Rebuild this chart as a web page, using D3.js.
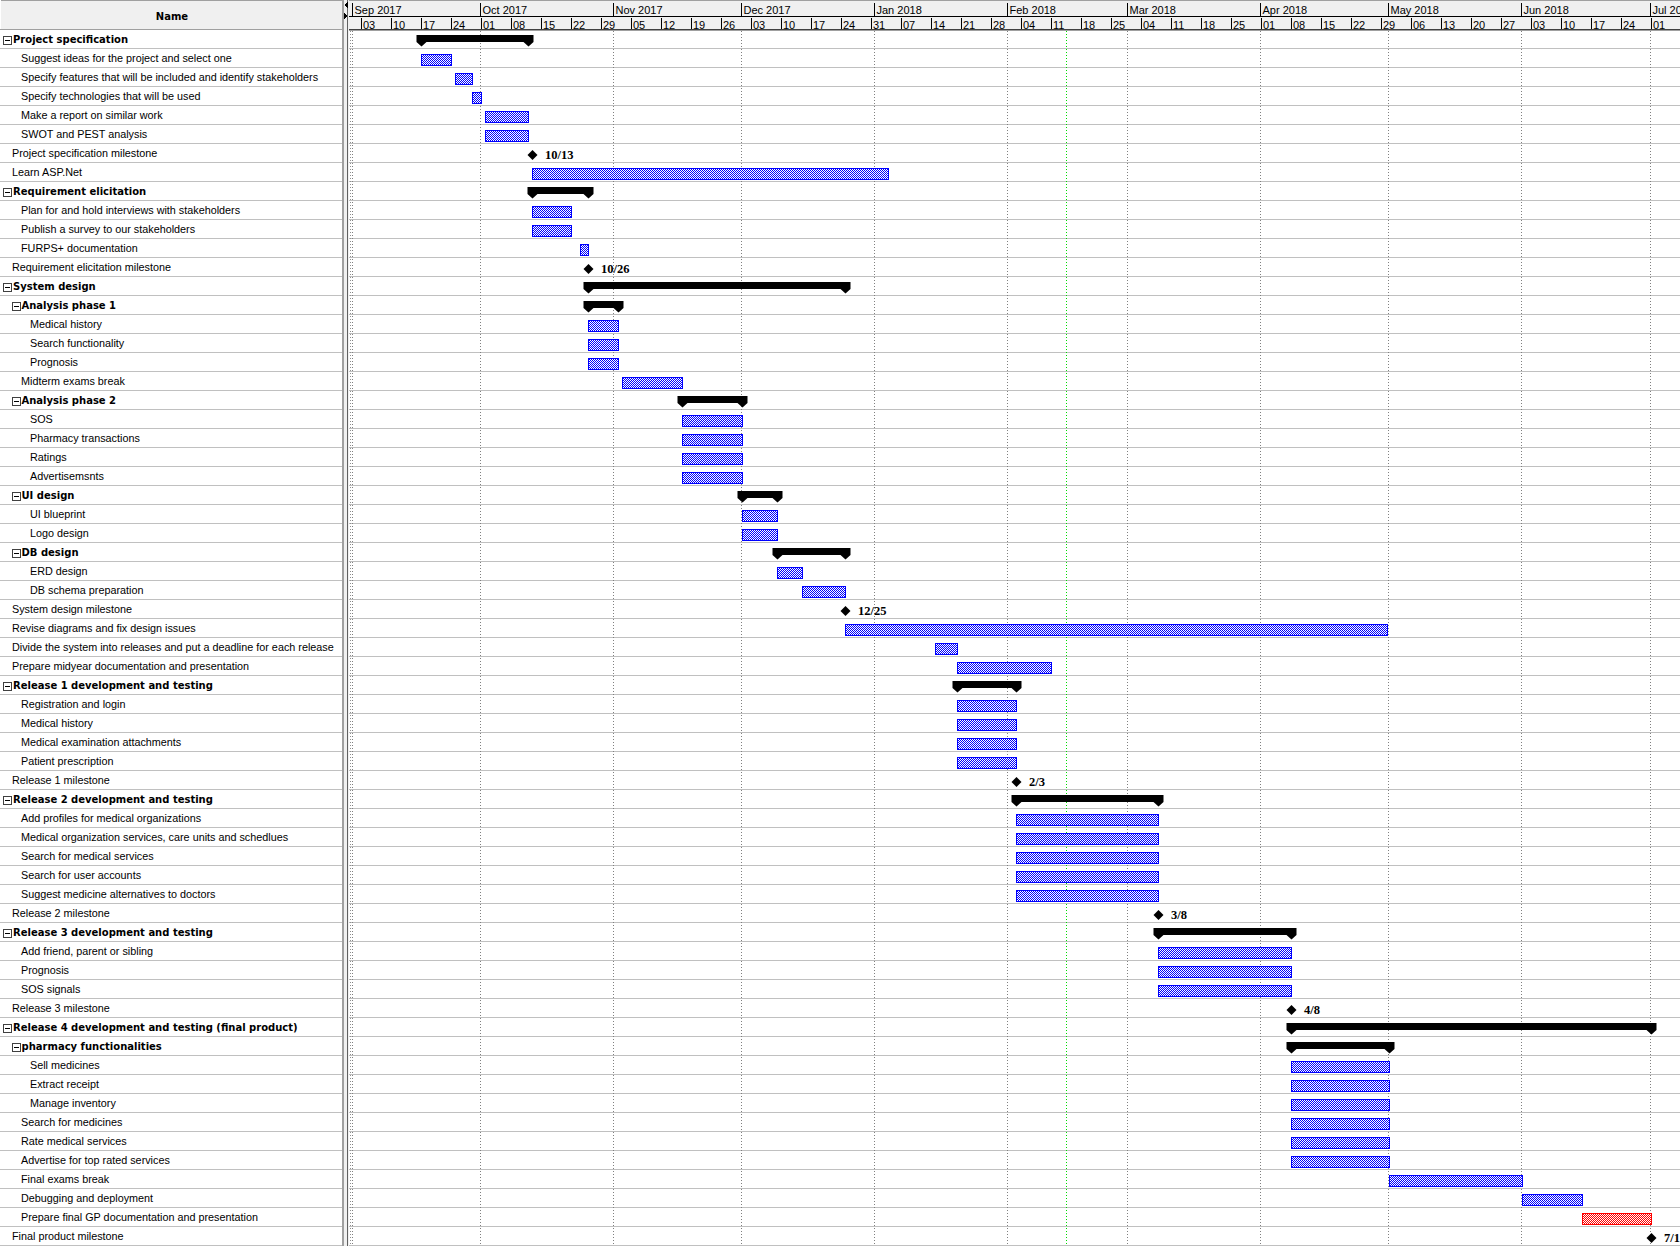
<!DOCTYPE html>
<html><head><meta charset="utf-8">
<script src="https://cdn.jsdelivr.net/npm/d3@7"></script>
<style>html,body{margin:0;padding:0;background:#fff;overflow:hidden}</style>
</head><body>
<svg id="c" width="1680" height="1246"></svg>
<script>
// ---------- DATA ----------
const taskNames = [
 "Project specification","Suggest ideas for the project and select one","Specify features that will be included and identify stakeholders",
 "Specify technologies that will be used","Make a report on similar work","SWOT and PEST analysis","Project specification milestone",
 "Learn ASP.Net","Requirement elicitation","Plan for and hold interviews with stakeholders","Publish a survey to our stakeholders",
 "FURPS+ documentation","Requirement elicitation milestone","System design","Analysis phase 1","Medical history","Search functionality",
 "Prognosis","Midterm exams break","Analysis phase 2","SOS","Pharmacy transactions","Ratings","Advertisemsnts","UI design","UI blueprint",
 "Logo design","DB design","ERD design","DB schema preparation","System design milestone","Revise diagrams and fix design issues",
 "Divide the system into releases and put a deadline for each release","Prepare midyear documentation and presentation",
 "Release 1 development and testing","Registration and login","Medical history","Medical examination attachments","Patient prescription",
 "Release 1 milestone","Release 2 development and testing","Add profiles for medical organizations",
 "Medical organization services, care units and schedlues","Search for medical services","Search for user accounts",
 "Suggest medicine alternatives to doctors","Release 2 milestone","Release 3 development and testing","Add friend, parent or sibling",
 "Prognosis","SOS signals","Release 3 milestone","Release 4 development and testing (final product)","pharmacy functionalities",
 "Sell medicines","Extract receipt","Manage inventory","Search for medicines","Rate medical services","Advertise for top rated services",
 "Final exams break","Debugging and deployment","Prepare final GP documentation and presentation","Final product milestone"
];
const taskLevels = [
 0,1,1,1,1,1,0,0,0,1,1,1,0,0,1,2,2,2,1,1,2,2,2,2,1,2,2,1,2,2,0,0,0,0,0,1,1,1,1,0,0,1,1,1,1,1,0,0,1,1,1,0,0,1,2,2,2,1,1,1,1,1,1,0
];
// g = summary group, t = task, m = milestone, c = critical task
const taskKinds = [
 "g","t","t","t","t","t","m","t","g","t","t","t","m","g","g","t","t","t","t","g","t","t","t","t","g","t","t","g","t","t","m","t","t","t",
 "g","t","t","t","t","m","g","t","t","t","t","t","m","g","t","t","t","m","g","g","t","t","t","t","t","t","t","t","c","m"
];
const taskStarts = [
 "2017-09-17","2017-09-17","2017-09-25","2017-09-29","2017-10-02","2017-10-02","2017-10-13","2017-10-13","2017-10-13","2017-10-13",
 "2017-10-13","2017-10-24","2017-10-26","2017-10-26","2017-10-26","2017-10-26","2017-10-26","2017-10-26","2017-11-03","2017-11-17",
 "2017-11-17","2017-11-17","2017-11-17","2017-11-17","2017-12-01","2017-12-01","2017-12-01","2017-12-09","2017-12-09","2017-12-15",
 "2017-12-25","2017-12-25","2018-01-15","2018-01-20","2018-01-20","2018-01-20","2018-01-20","2018-01-20","2018-01-20","2018-02-03",
 "2018-02-03","2018-02-03","2018-02-03","2018-02-03","2018-02-03","2018-02-03","2018-03-08","2018-03-08","2018-03-08","2018-03-08",
 "2018-03-08","2018-04-08","2018-04-08","2018-04-08","2018-04-08","2018-04-08","2018-04-08","2018-04-08","2018-04-08","2018-04-08",
 "2018-05-01","2018-06-01","2018-06-15","2018-07-01"
];
const taskEnds = [
 "2017-10-12","2017-09-24","2017-09-29","2017-10-01","2017-10-12","2017-10-12","2017-10-13","2018-01-04","2017-10-26","2017-10-22",
 "2017-10-22","2017-10-26","2017-10-26","2017-12-25","2017-11-02","2017-11-02","2017-11-02","2017-11-02","2017-11-17","2017-12-01",
 "2017-12-01","2017-12-01","2017-12-01","2017-12-01","2017-12-09","2017-12-09","2017-12-09","2017-12-25","2017-12-15","2017-12-25",
 "2017-12-25","2018-04-30T12:00","2018-01-20","2018-02-11","2018-02-03","2018-02-03","2018-02-03","2018-02-03","2018-02-03","2018-02-03",
 "2018-03-08","2018-03-08","2018-03-08","2018-03-08","2018-03-08","2018-03-08","2018-03-08","2018-04-08","2018-04-08","2018-04-08",
 "2018-04-08","2018-04-08","2018-07-01","2018-05-01","2018-05-01","2018-05-01","2018-05-01","2018-05-01","2018-05-01","2018-05-01",
 "2018-06-01","2018-06-15","2018-07-01","2018-07-01"
];
const timeDomain = ["2017-09-01","2018-07-01"];
const todayDate = "2018-02-14T12:00";
const headerTitle = "Name";

// ---------- LAYOUT ----------
const W = 1680, H = 1246, HEAD = 29, ROW = 19, TABLE_W = 342, CHART_X = 349;
const parse = s => new Date(s + (s.length > 10 ? ":00Z" : "T00:00:00Z"));
const x = d3.scaleUtc().domain(timeDomain.map(parse)).range([353, 1651]);
const rows = taskNames.map((n, i) => ({
  name: n, level: taskLevels[i], kind: taskKinds[i],
  s: parse(taskStarts[i]), e: parse(taskEnds[i]), top: HEAD + i * ROW
}));
const fontNormal = "Liberation Sans, Arial, sans-serif";
const fontBold = "DejaVu Sans, Verdana, sans-serif";

const svg = d3.select("#c").attr("shape-rendering", "crispEdges");
const defs = svg.append("defs");
function checker(id, col) {
  const p = defs.append("pattern").attr("id", id).attr("width", 2).attr("height", 2)
    .attr("patternUnits", "userSpaceOnUse");
  p.append("rect").attr("width", 2).attr("height", 2).attr("fill", "#fff");
  p.append("rect").attr("width", 1).attr("height", 1).attr("fill", col);
  p.append("rect").attr("x", 1).attr("y", 1).attr("width", 1).attr("height", 1).attr("fill", col);
}
checker("pBlue", "#0000ff");
checker("pRed", "#ff0000");
defs.append("clipPath").attr("id", "clipChart").append("rect")
  .attr("x", CHART_X).attr("y", 0).attr("width", W - CHART_X).attr("height", H);
defs.append("clipPath").attr("id", "clipTable").append("rect")
  .attr("x", 0).attr("y", 0).attr("width", TABLE_W).attr("height", H);

svg.append("rect").attr("width", W).attr("height", H).attr("fill", "#fff");

// ---------- TABLE ----------
const table = svg.append("g").attr("clip-path", "url(#clipTable)");
table.append("rect").attr("x", 0).attr("y", 0).attr("width", TABLE_W).attr("height", HEAD).attr("fill", "#f0f0f0");
table.append("line").attr("x1", 0).attr("x2", TABLE_W).attr("y1", 0.5).attr("y2", 0.5).attr("stroke", "#a0a0a0");
table.append("line").attr("x1", 0.5).attr("x2", 0.5).attr("y1", 0).attr("y2", HEAD).attr("stroke", "#ffffff");
table.append("text").attr("x", 172).attr("y", 19.5).attr("text-anchor", "middle")
  .attr("font-family", fontBold).attr("font-size", 10).attr("font-weight", "bold")
  .attr("fill", "#000").text(headerTitle);

const trow = table.selectAll("g.row").data(rows).join("g").attr("class", "row")
  .attr("transform", d => `translate(0,${d.top})`);
trow.filter(d => d.kind === "g").each(function(d) {
  const g = d3.select(this), bx = 3 + 9 * d.level;
  g.append("rect").attr("x", bx + 0.5).attr("y", 7.5).attr("width", 8).attr("height", 8)
    .attr("fill", "#fff").attr("stroke", "#404040");
  g.append("line").attr("x1", bx + 2).attr("x2", bx + 7).attr("y1", 11.5).attr("y2", 11.5).attr("stroke", "#000");
});
trow.append("text")
  .attr("x", d => d.kind === "g" ? 13 + 8.5 * d.level : 12 + 9 * d.level)
  .attr("y", 13.8)
  .attr("font-family", d => d.kind === "g" ? fontBold : fontNormal)
  .attr("font-size", d => d.kind === "g" ? 10 : 10.8)
  .attr("font-weight", d => d.kind === "g" ? "bold" : "normal")
  .attr("fill", "#000").attr("shape-rendering", "auto")
  .text(d => d.name);

// row lines across everything
svg.append("g").selectAll("line").data(rows).join("line")
  .attr("x1", 0).attr("x2", W)
  .attr("y1", d => d.top + ROW + 0.5).attr("y2", d => d.top + ROW + 0.5)
  .attr("stroke", "#c0c0c0");
svg.append("line").attr("x1", 0).attr("x2", TABLE_W).attr("y1", HEAD + 0.5).attr("y2", HEAD + 0.5).attr("stroke", "#a0a0a0");

// ---------- SPLITTER ----------
const sp = svg.append("g");
sp.append("rect").attr("x", 342).attr("y", 0).attr("width", 7).attr("height", H).attr("fill", "#f0f0f0");
sp.append("line").attr("x1", 342.5).attr("x2", 342.5).attr("y1", 0).attr("y2", H).attr("stroke", "#a0a0a0");
sp.append("line").attr("x1", 343.5).attr("x2", 343.5).attr("y1", 0).attr("y2", H).attr("stroke", "#a0a0a0");
sp.append("line").attr("x1", 347.5).attr("x2", 347.5).attr("y1", 0).attr("y2", H).attr("stroke", "#606060");
sp.append("path").attr("d", "M344,5 L348,2 L348,8 Z").attr("fill", "#000");
sp.append("path").attr("d", "M344,13 L348,16 L344,19 Z").attr("fill", "#000");

// ---------- CHART ----------
const chart = svg.append("g").attr("clip-path", "url(#clipChart)");
const months = d3.utcMonth.range(x.domain()[0], d3.utcMonth.offset(x.domain()[1], 1)).filter(d => x(d) < W);
const weeks = d3.utcSunday.range(d3.utcDay.offset(x.domain()[0], -7), d3.utcDay.offset(x.domain()[1], 30))
  .filter(d => x(d) > CHART_X && x(d) + 14 < W);
const mx = d => Math.floor(x(d)) - 0.5;
const wx = d => Math.floor(x(d)) + 0.5;

// header
chart.append("rect").attr("x", CHART_X).attr("y", 0).attr("width", W - CHART_X).attr("height", HEAD + 1).attr("fill", "#f0f0f0");
chart.append("line").attr("x1", CHART_X).attr("x2", W).attr("y1", 0.5).attr("y2", 0.5).attr("stroke", "#a0a0a0");
chart.append("line").attr("x1", CHART_X).attr("x2", W).attr("y1", 16.5).attr("y2", 16.5).attr("stroke", "#000");
chart.append("line").attr("x1", CHART_X).attr("x2", W).attr("y1", 29.5).attr("y2", 29.5).attr("stroke", "#404040");
chart.append("line").attr("x1", CHART_X).attr("x2", W).attr("y1", 30.5).attr("y2", 30.5).attr("stroke", "#a0a0a0");

const mg = chart.append("g").selectAll("g").data(months).join("g");
mg.append("line").attr("x1", mx).attr("x2", mx).attr("y1", 3).attr("y2", 16).attr("stroke", "#000");
mg.append("text").attr("x", d => mx(d) + 2).attr("y", 13.5).attr("font-family", fontNormal).attr("font-size", 11)
  .attr("fill", "#000").text(d3.utcFormat("%b %Y"));

const wg = chart.append("g").selectAll("g").data(weeks).join("g");
wg.append("line").attr("x1", wx).attr("x2", wx).attr("y1", 18).attr("y2", 29).attr("stroke", "#000");
wg.append("text").attr("x", d => wx(d) + 1.5).attr("y", 28.6).attr("font-family", fontNormal).attr("font-size", 11)
  .attr("fill", "#000").text(d3.utcFormat("%d"));

// body gridlines
chart.append("line").attr("x1", 350.5).attr("x2", 350.5).attr("y1", HEAD + 2).attr("y2", H)
  .attr("stroke", "#909090").attr("stroke-dasharray", "1,2");
chart.append("g").selectAll("line").data(months).join("line")
  .attr("x1", mx).attr("x2", mx).attr("y1", HEAD + 2).attr("y2", H)
  .attr("stroke", "#808080").attr("stroke-dasharray", "1,2");
chart.append("line").attr("x1", wx(parse(todayDate))).attr("x2", wx(parse(todayDate)))
  .attr("y1", HEAD + 2).attr("y2", H).attr("stroke", "#00dd00").attr("stroke-dasharray", "1,2");

// bars
const bars = chart.append("g").selectAll("g").data(rows).join("g")
  .attr("transform", d => `translate(0,${d.top})`);
bars.filter(d => d.kind === "t" || d.kind === "c").append("rect")
  .attr("x", d => Math.floor(x(d.s)) + 0.5)
  .attr("width", d => Math.floor(x(d.e)) - Math.floor(x(d.s)))
  .attr("y", 6.5).attr("height", 11)
  .attr("fill", d => d.kind === "c" ? "url(#pRed)" : "url(#pBlue)")
  .attr("stroke", d => d.kind === "c" ? "#ff0000" : "#0000ff");

const sum = bars.filter(d => d.kind === "g");
sum.append("path").attr("shape-rendering", "auto").attr("fill", "#000")
  .attr("d", d => {
    const a = Math.floor(x(d.s)) + 0.5, b = Math.floor(x(d.e)) + 0.5;
    return `M${a - 5},6 L${b + 5},6 L${b + 5},13 L${b},17.5 L${b - 5},13 L${a + 5},13 L${a},17.5 L${a - 5},13 Z`;
  });

const ms = bars.filter(d => d.kind === "m");
ms.append("path").attr("shape-rendering", "auto").attr("fill", "#000")
  .attr("d", d => { const c = Math.floor(x(d.s)) + 0.5; return `M${c},7 L${c + 5},12 L${c},17 L${c - 5},12 Z`; });
ms.append("text").attr("x", d => Math.floor(x(d.s)) + 13).attr("y", 16)
  .attr("font-family", "Liberation Serif, Times New Roman, serif").attr("font-size", 12.5).attr("font-weight", "bold")
  .attr("fill", "#000").attr("shape-rendering", "auto")
  .text(d => d3.utcFormat("%-m/%-d")(d.s));
</script>
</body></html>
